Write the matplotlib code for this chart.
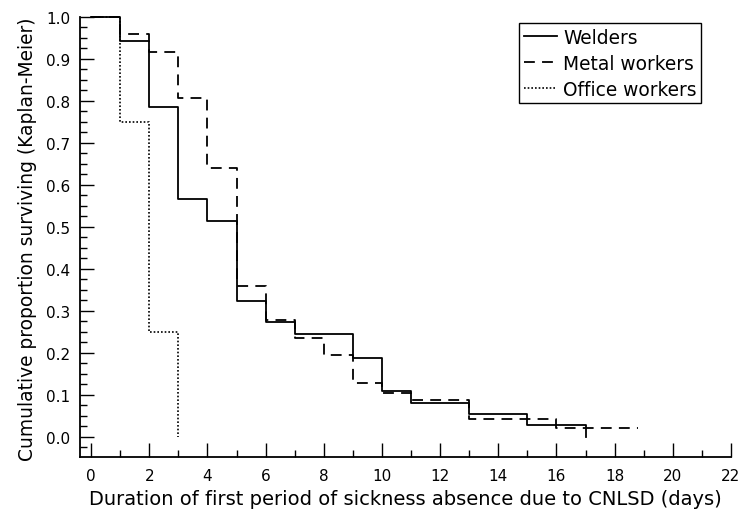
import matplotlib.pyplot as plt
from matplotlib.ticker import MultipleLocator

plt.rcParams['font.family'] = ['DejaVu Sans']

# step times (days) and Kaplan-Meier survival after each step
welder_days = [0, 1, 2, 3, 4, 5, 6, 7, 9, 10, 11, 13, 15, 17]
welder_surv = [1.0, 0.943, 0.786, 0.567, 0.515, 0.324, 0.274, 0.244, 0.188, 0.110, 0.081, 0.055, 0.027, 0.0]

metal_days = [0, 1, 2, 3, 4, 5, 6, 7, 8, 9, 10, 11, 13, 16, 18.8]
metal_surv = [1.0, 0.960, 0.916, 0.806, 0.640, 0.358, 0.277, 0.236, 0.195, 0.127, 0.105, 0.087, 0.043, 0.020, 0.020]

office_days = [0, 1, 2, 3]
office_surv = [1.0, 0.75, 0.25, 0.0]

fig = plt.figure(figsize=(7.41, 5.10), dpi=100)
ax = fig.add_axes([0.108, 0.102, 0.8785, 0.863])

ax.plot(welder_days, welder_surv, drawstyle='steps-post', color='black', lw=1.3,
        label='Welders', clip_on=False)
ax.plot(metal_days, metal_surv, drawstyle='steps-post', color='black', lw=1.3,
        dashes=(6, 4), label='Metal workers', clip_on=False)
ax.plot(office_days, office_surv, drawstyle='steps-post', color='black', lw=1.2,
        dashes=(1, 1.2), label='Office workers', clip_on=False)

ax.set_xlim(-0.38, 22)
ax.set_ylim(-0.048, 1.0)
ax.xaxis.set_major_locator(MultipleLocator(2))
ax.xaxis.set_minor_locator(MultipleLocator(1))
ax.yaxis.set_minor_locator(MultipleLocator(0.025))
ax.set_yticks([i / 10 for i in range(11)])
ax.set_yticklabels(['%.1f' % (i / 10) for i in range(11)])

ax.tick_params(which='major', direction='in', length=10, width=1, labelsize=11, pad=8)
ax.tick_params(which='minor', direction='in', length=5, width=1)
ax.tick_params(axis='y', which='major', pad=7)

for s in ['top', 'right']:
    ax.spines[s].set_visible(False)
for s in ['left', 'bottom']:
    ax.spines[s].set_linewidth(1.3)

ax.set_xlabel('Duration of first period of sickness absence due to CNLSD (days)', fontsize=14, labelpad=4)
ax.set_ylabel('Cumulative proportion surviving (Kaplan-Meier)', fontsize=13.4)
ax.yaxis.set_label_coords(-0.066, 0.497)

leg = ax.legend(loc='upper right', bbox_to_anchor=(0.954, 0.986), fontsize=13.4,
                frameon=True, fancybox=False, edgecolor='black', framealpha=1,
                handlelength=1.8, handletextpad=0.3, borderpad=0.25, labelspacing=0.38,
                borderaxespad=0)
leg.get_frame().set_linewidth(1.0)

fig.savefig('out.png', dpi=100)
